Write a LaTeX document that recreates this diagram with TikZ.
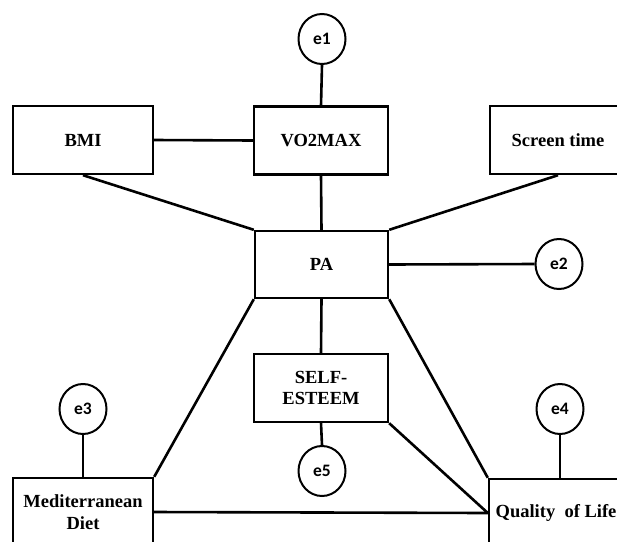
\documentclass[tikz,border=0pt]{standalone}
\usepackage{fontspec}
\setmainfont{Liberation Serif}
\newfontfamily\efont{Carlito}
\usetikzlibrary{shapes.geometric}
\begin{document}
\begin{tikzpicture}[x=1pt,y=-1pt,
  box/.style={draw, line width=2.4pt, rectangle, minimum height=68pt, align=center,
    font=\fontsize{18.5}{21.5}\selectfont\bfseries, inner sep=0pt},
  err/.style={draw, line width=2pt, ellipse, minimum width=47pt, minimum height=50pt,
    inner sep=0pt, font=\efont\fontsize{17.5}{19}\selectfont\bfseries},
  link/.style={line width=2.6pt}]
\useasboundingbox (0,0) rectangle (617,541);
\clip (0,0) rectangle (617,541);
\node[box, minimum width=140pt] (bmi) at (83,140) {BMI};
\node[box, minimum width=134pt] (vo2) at (321,140.5) {VO2MAX};
\node[box, minimum width=136pt] (scr) at (558,140) {Screen time};
\node[box, minimum width=133pt, minimum height=67pt] (pa) at (321.5,264.5) {PA};
\node[box, minimum width=134pt] (self) at (321,388) {SELF-\\ESTEEM};
\node[box, minimum width=140pt] (med) at (83,512) {Mediterranean\\Diet};
\node[box, minimum width=134pt] (qol) at (556,513) {Quality\ \ of Life};
\node[err] (e1) at (322,39) {e1};
\node[err] (e2) at (559,264) {e2};
\node[err] (e3) at (83,409) {e3};
\node[err] (e4) at (560,409) {e4};
\node[err] (e5) at (322,471) {e5};
\draw[link] (e1.south) -- (vo2.north);
\draw[link] (bmi.east) -- (vo2.west);
\draw[link] (vo2.south) -- (pa.north);
\draw[link] (bmi.south) -- (pa.north west);
\draw[link] (scr.south) -- (pa.north east);
\draw[link] (pa.east) -- (e2.west);
\draw[link] (pa.south) -- (self.north);
\draw[link] (pa.south west) -- (med.north east);
\draw[link] (pa.south east) -- (qol.north west);
\draw[link] (self.south) -- (e5.north);
\draw[link] (self.south east) -- (qol.west);
\draw[link] (med.east) -- (qol.west);
\draw[link] (e3.south) -- (med.north);
\draw[link] (e4.south) -- (e4.south |- qol.north);
\end{tikzpicture}
\end{document}
